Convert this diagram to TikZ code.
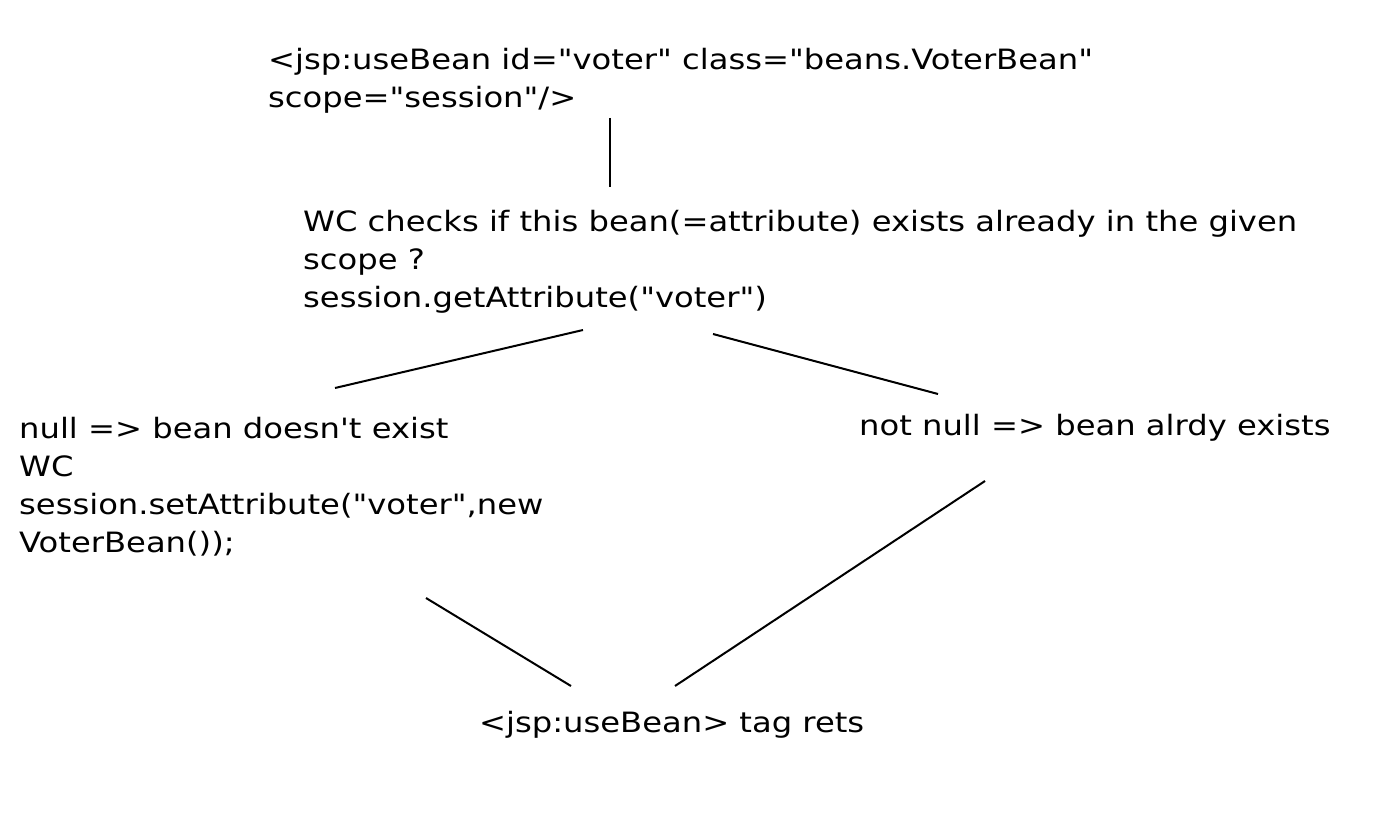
\documentclass[tikz,border=0pt]{standalone}
\usepackage{fontspec}
\setmainfont{DejaVu Sans}[Ligatures=TeXOff,FakeStretch=1.15]
\tikzset{
  txt/.style={anchor=base west, inner sep=0pt, align=left, font=\fontsize{28}{38}\selectfont},
  conn/.style={draw=black, line width=2pt}
}
\begin{document}
\begin{tikzpicture}[x=1pt,y=-1pt]
\useasboundingbox[fill=white] (0,0) rectangle (1392,824);
\node[txt] (use) at (268,108) {<jsp:useBean id="voter" class="beans.VoterBean"\\scope="session"/>};
\node[txt] (check) at (303,307) {WC checks if this bean(=attribute) exists already in the given\\scope ?\\session.getAttribute("voter")};
\node[txt] (null) at (19,552) {null => bean doesn't exist\\WC\\session.setAttribute("voter",new\\VoterBean());};
\node[txt] (notnull) at (859,435) {not null => bean alrdy exists};
\node[txt] (ret) at (479,732) {<jsp:useBean> tag rets};
\coordinate (a1) at (610,118); \coordinate (a2) at (610,187);
\coordinate (b1) at (583,330); \coordinate (b2) at (335,388);
\coordinate (c1) at (713,334); \coordinate (c2) at (938,394);
\coordinate (d1) at (426,598); \coordinate (d2) at (571,686);
\coordinate (e1) at (985,481); \coordinate (e2) at (675,686);
\draw[conn] (a1) -- (a2);
\draw[conn] (b1) -- (b2);
\draw[conn] (c1) -- (c2);
\draw[conn] (d1) -- (d2);
\draw[conn] (e1) -- (e2);
\end{tikzpicture}
\end{document}
